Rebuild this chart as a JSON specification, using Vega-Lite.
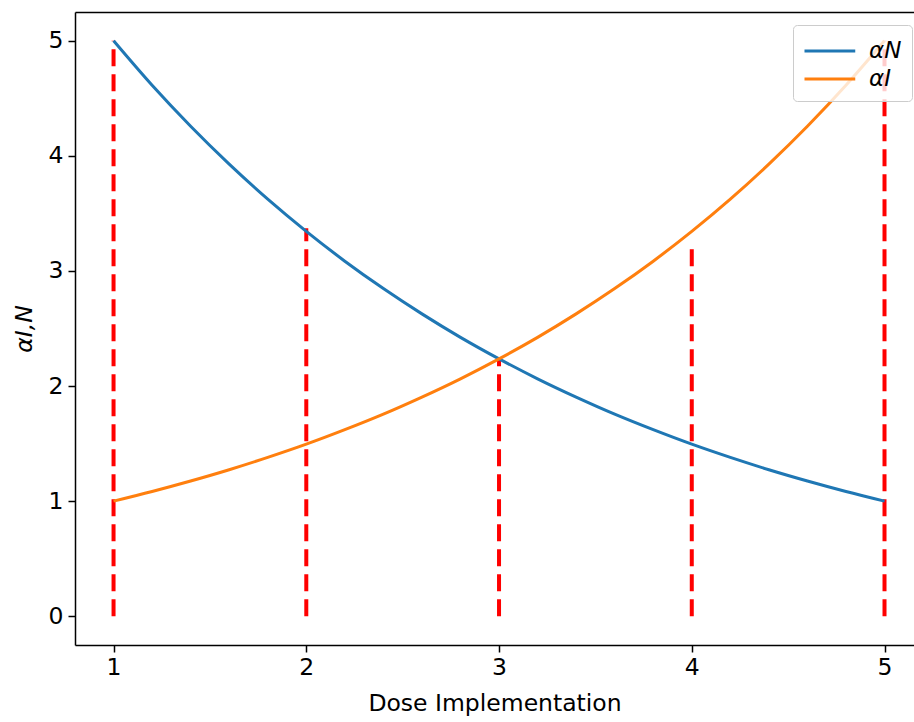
{
  "$schema": "https://vega.github.io/schema/vega-lite/v6.json",
  "width": 839,
  "height": 633,
  "autosize": {"type": "none"},
  "padding": {"left": 75, "top": 12, "right": 0, "bottom": 77},
  "background": "white",
  "config": {
    "view": {"stroke": null},
    "font": "DejaVu Sans",
    "axis": {
      "grid": false,
      "domainColor": "black",
      "domainWidth": 1.5,
      "tickColor": "black",
      "tickWidth": 1.5,
      "tickSize": 7,
      "labelColor": "black",
      "labelFont": "DejaVu Sans",
      "labelFontSize": 23.5,
      "titleFont": "DejaVu Sans",
      "titleFontSize": 23.5,
      "titleFontWeight": "normal",
      "titleColor": "black"
    }
  },
  "datasets": {
    "curves": [
      {"x": 1.0, "value": 5.0, "series": "αN"},
      {"x": 1.2, "value": 4.613, "series": "αN"},
      {"x": 1.4, "value": 4.257, "series": "αN"},
      {"x": 1.6, "value": 3.928, "series": "αN"},
      {"x": 1.8, "value": 3.624, "series": "αN"},
      {"x": 2.0, "value": 3.344, "series": "αN"},
      {"x": 2.2, "value": 3.085, "series": "αN"},
      {"x": 2.4, "value": 2.847, "series": "αN"},
      {"x": 2.6, "value": 2.627, "series": "αN"},
      {"x": 2.8, "value": 2.423, "series": "αN"},
      {"x": 3.0, "value": 2.236, "series": "αN"},
      {"x": 3.2, "value": 2.063, "series": "αN"},
      {"x": 3.4, "value": 1.904, "series": "αN"},
      {"x": 3.6, "value": 1.756, "series": "αN"},
      {"x": 3.8, "value": 1.621, "series": "αN"},
      {"x": 4.0, "value": 1.495, "series": "αN"},
      {"x": 4.2, "value": 1.380, "series": "αN"},
      {"x": 4.4, "value": 1.273, "series": "αN"},
      {"x": 4.6, "value": 1.175, "series": "αN"},
      {"x": 4.8, "value": 1.084, "series": "αN"},
      {"x": 5.0, "value": 1.0, "series": "αN"},
      {"x": 1.0, "value": 1.0, "series": "αI"},
      {"x": 1.2, "value": 1.084, "series": "αI"},
      {"x": 1.4, "value": 1.175, "series": "αI"},
      {"x": 1.6, "value": 1.273, "series": "αI"},
      {"x": 1.8, "value": 1.380, "series": "αI"},
      {"x": 2.0, "value": 1.495, "series": "αI"},
      {"x": 2.2, "value": 1.621, "series": "αI"},
      {"x": 2.4, "value": 1.756, "series": "αI"},
      {"x": 2.6, "value": 1.904, "series": "αI"},
      {"x": 2.8, "value": 2.063, "series": "αI"},
      {"x": 3.0, "value": 2.236, "series": "αI"},
      {"x": 3.2, "value": 2.423, "series": "αI"},
      {"x": 3.4, "value": 2.627, "series": "αI"},
      {"x": 3.6, "value": 2.847, "series": "αI"},
      {"x": 3.8, "value": 3.085, "series": "αI"},
      {"x": 4.0, "value": 3.344, "series": "αI"},
      {"x": 4.2, "value": 3.624, "series": "αI"},
      {"x": 4.4, "value": 3.928, "series": "αI"},
      {"x": 4.6, "value": 4.257, "series": "αI"},
      {"x": 4.8, "value": 4.613, "series": "αI"},
      {"x": 5.0, "value": 5.0, "series": "αI"}
    ],
    "vlines": [
      {"x": 1, "lo": 0, "hi": 5.0},
      {"x": 2, "lo": 0, "hi": 3.37},
      {"x": 3, "lo": 0, "hi": 2.24},
      {"x": 4, "lo": 0, "hi": 3.22},
      {"x": 5, "lo": 0, "hi": 5.0}
    ]
  },
  "layer": [
    {
      "data": {"name": "vlines"},
      "mark": {"type": "rule", "color": "#ff0000", "strokeWidth": 4, "strokeDash": [17, 8], "strokeCap": "butt"},
      "encoding": {
        "x": {
          "field": "x", "type": "quantitative",
          "scale": {"domain": [0.8, 5.153], "nice": false, "zero": false},
          "axis": {"orient": "top", "labels": false, "ticks": false, "title": null}
        },
        "y": {
          "field": "lo", "type": "quantitative",
          "scale": {"domain": [-0.25, 5.25], "nice": false, "zero": false},
          "axis": {"orient": "right", "labels": false, "ticks": false, "domain": false, "title": null}
        },
        "y2": {"field": "hi"}
      }
    },
    {
      "data": {"name": "curves"},
      "mark": {"type": "line", "strokeWidth": 3, "interpolate": "monotone"},
      "encoding": {
        "x": {
          "field": "x", "type": "quantitative",
          "axis": {"orient": "bottom", "values": [1, 2, 3, 4, 5], "format": "d", "title": "Dose Implementation", "titlePadding": 13, "labelPadding": 3}
        },
        "y": {
          "field": "value", "type": "quantitative",
          "axis": {"orient": "left", "values": [0, 1, 2, 3, 4, 5], "format": "d", "title": "αI,N", "titleFontStyle": "italic", "titlePadding": 12, "labelPadding": 5}
        },
        "color": {
          "field": "series", "type": "nominal",
          "scale": {"domain": ["αN", "αI"], "range": ["#1f77b4", "#ff7f0e"]},
          "legend": {
            "title": null,
            "orient": "none",
            "legendX": 718,
            "legendY": 13,
            "symbolType": "M-1,0H2.5",
            "symbolSize": 841,
            "symbolStrokeWidth": 3,
            "labelFont": "DejaVu Sans",
            "labelFontSize": 23,
            "labelFontStyle": "italic",
            "labelColor": "black",
            "labelOffset": 34,
            "rowPadding": 0,
            "padding": 10,
            "strokeColor": "#cccccc",
            "fillColor": "rgba(255,255,255,0.8)",
            "cornerRadius": 4
          }
        }
      }
    }
  ],
  "resolve": {"axis": {"x": "independent", "y": "independent"}}
}
